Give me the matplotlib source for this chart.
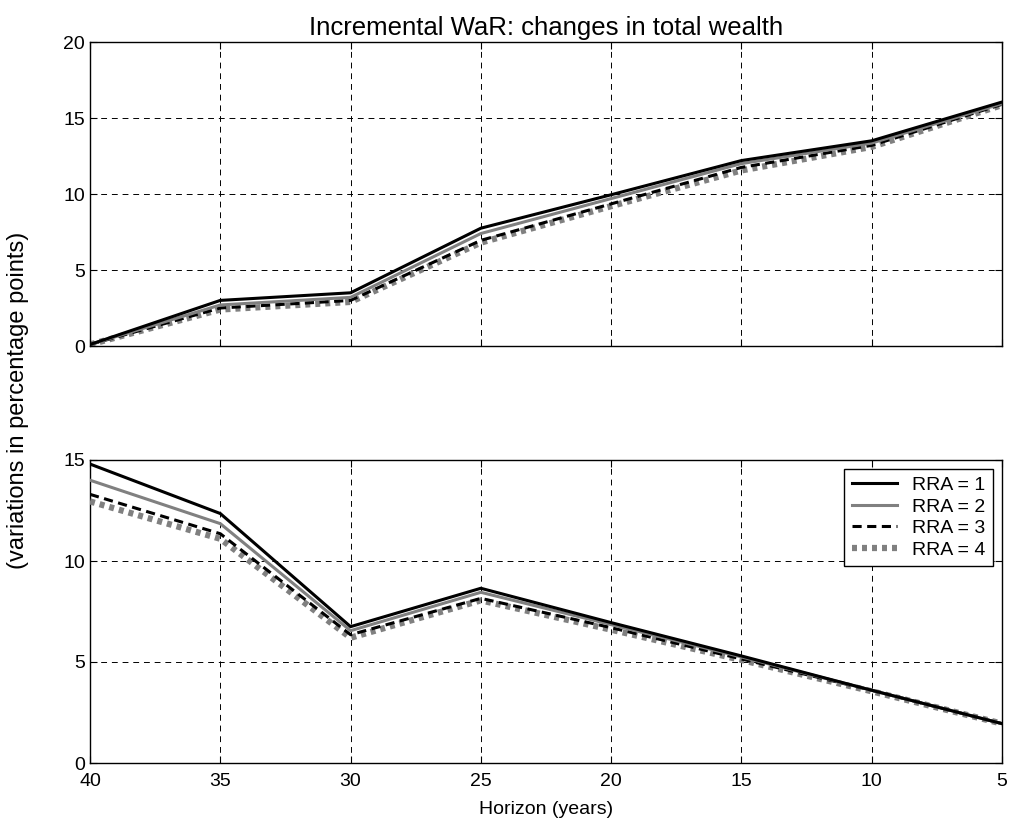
import matplotlib
matplotlib.use("Agg")
import matplotlib.pyplot as plt

# Horizon (years) and incremental WaR values
horizon = [40, 35, 30, 25, 20, 15, 10, 5]
labels = ["RRA = 1", "RRA = 2", "RRA = 3", "RRA = 4"]

top_rra1 = [0.1, 3.0, 3.5, 7.75, 9.95, 12.2, 13.5, 16.05]
top_rra2 = [0.1, 2.7, 3.2, 7.4, 9.7, 12.0, 13.35, 15.95]
top_rra3 = [0.1, 2.5, 3.0, 6.95, 9.35, 11.75, 13.2, 15.9]
top_rra4 = [0.1, 2.4, 2.9, 6.8, 9.2, 11.55, 13.1, 15.85]

bot_rra1 = [14.8, 12.35, 6.75, 8.65, 6.95, 5.3, 3.6, 1.95]
bot_rra2 = [14.0, 11.85, 6.55, 8.45, 6.85, 5.25, 3.6, 1.95]
bot_rra3 = [13.3, 11.35, 6.35, 8.15, 6.7, 5.15, 3.6, 1.95]
bot_rra4 = [12.95, 11.1, 6.2, 8.05, 6.6, 5.1, 3.55, 1.95]

plt.rcParams["font.family"] = ["Liberation Sans", "DejaVu Sans"]

styles = [
    dict(color="black", linestyle="-", linewidth=2.2),
    dict(color="#808080", linestyle="-", linewidth=2.2),
    dict(color="black", linestyle=(0, (3, 1.8)), linewidth=2.2),
    dict(color="#808080", linestyle=(0, (0.8, 0.8)), linewidth=4.5),
]

fig = plt.figure(figsize=(10.14, 8.25), dpi=100)
ax1 = fig.add_axes([90 / 1014, 1 - 346 / 825, 912 / 1014, 304 / 825])
ax2 = fig.add_axes([90 / 1014, 1 - 763 / 825, 912 / 1014, 303 / 825])


def setup(ax, ymax, yticks):
    ax.set_xlim(40, 5)
    ax.set_ylim(0, ymax)
    ax.set_xticks(horizon)
    ax.set_yticks(yticks)
    ax.grid(True, color="black", linestyle=(0, (6, 5)), linewidth=0.7)
    ax.tick_params(direction="in", top=True, right=True, labelsize=14, length=5)
    ax.tick_params(axis="x", pad=7)
    for s in ax.spines.values():
        s.set_linewidth(1.0)


for ys, st in zip([top_rra4, top_rra3, top_rra2, top_rra1], styles[::-1]):
    ax1.plot(horizon, ys, **st)
setup(ax1, 20, [0, 5, 10, 15, 20])
ax1.set_xticklabels([])
ax1.set_title("Incremental WaR: changes in total wealth", fontsize=18.5, pad=5)

handles = []
for ys, st, lab in zip([bot_rra1, bot_rra2, bot_rra3, bot_rra4], styles, labels):
    h, = ax2.plot(horizon, ys, label=lab, **st)
    handles.append(h)
# draw the back series first so the black lines stay on top
for h, z in zip(handles, [4, 3, 2, 1]):
    h.set_zorder(z + 2)
setup(ax2, 15, [0, 5, 10, 15])
ax2.set_xticklabels([str(h) for h in horizon])
ax2.set_xlabel("Horizon (years)", fontsize=14, labelpad=8)

leg = ax2.legend(handles=handles, loc="upper right", fontsize=14, fancybox=False,
                 framealpha=1, edgecolor="black", handlelength=2.3,
                 borderaxespad=0.45, labelspacing=0.2, borderpad=0.4)
leg.get_frame().set_linewidth(1.0)

fig.text(18 / 1014, 1 - 400 / 825, "(variations in percentage points)",
         rotation=90, va="center", ha="center", fontsize=17)

fig.savefig("out.png", dpi=100)
